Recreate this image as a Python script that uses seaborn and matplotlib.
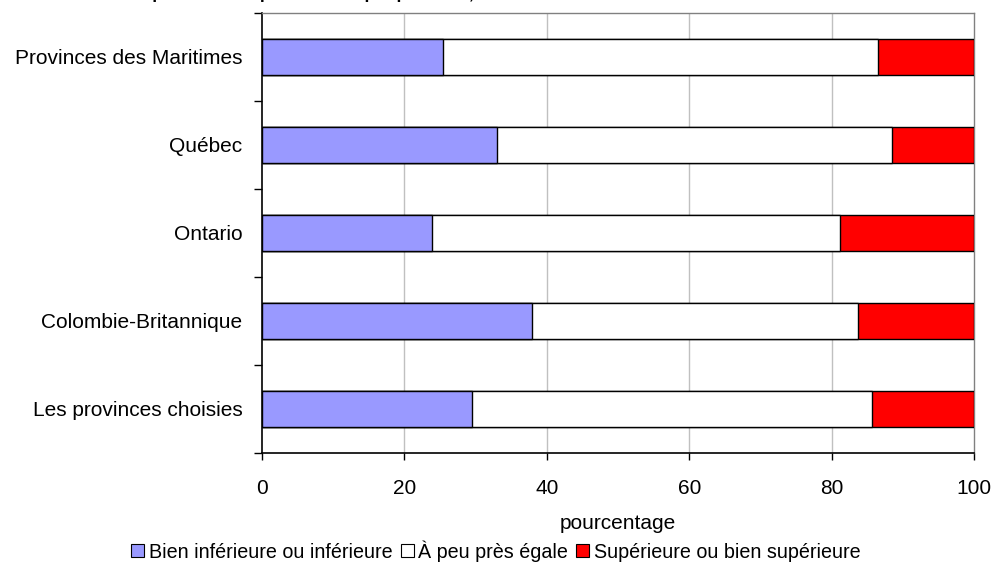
import matplotlib
matplotlib.use("Agg")
import matplotlib.pyplot as plt
from matplotlib.patches import Patch
from matplotlib.ticker import FixedLocator
import pandas as pd
import seaborn as sns

# Productivity compared with competitors, by province (percentages)
provinces = [
    "Provinces des Maritimes",
    "Québec",
    "Ontario",
    "Colombie-Britannique",
    "Les provinces choisies",
]
inferieure = [25.4, 33.0, 23.9, 37.9, 29.5]
egale = [61.1, 55.5, 57.3, 45.8, 56.2]
superieure = [13.5, 11.5, 18.8, 16.3, 14.3]

series_labels = [
    "Bien inférieure ou inférieure",
    "À peu près égale",
    "Supérieure ou bien supérieure",
]
series_colors = ["#9999ff", "#ffffff", "#ff0000"]

x_ticks = [0, 20, 40, 60, 80, 100]
x_label = "pourcentage"
title = "Supérieure à la productivité par province, 1999"

df = pd.DataFrame({
    "province": provinces,
    "inf": inferieure,
    "eq": egale,
    "sup": superieure,
})
# cumulative ends of each stacked segment
df["c1"] = df["inf"]
df["c2"] = df["inf"] + df["eq"]
df["c3"] = df["inf"] + df["eq"] + df["sup"]

sns.set_theme(style="white")
plt.rcParams["font.family"] = ["Liberation Sans", "DejaVu Sans"]
plt.rcParams["text.color"] = "black"
plt.rcParams["axes.labelcolor"] = "black"
plt.rcParams["xtick.color"] = "black"
plt.rcParams["ytick.color"] = "black"

fig = plt.figure(figsize=(9.92, 5.65), dpi=100)
ax = fig.add_axes([262 / 992, 1 - 453 / 565, 712 / 992, 440 / 565])

for col, color in zip(["c3", "c2", "c1"], series_colors[::-1]):
    sns.barplot(data=df, x=col, y="province", order=provinces, orient="h",
                color=color, width=0.41, edgecolor="black", linewidth=1.0,
                saturation=1, ax=ax, zorder=3)
ax.set_ylim(4.5, -0.5)
ax.set_xlim(0, 100)

# vertical gridlines
for xv in x_ticks[1:-1]:
    ax.axvline(xv, color="#c0c0c0", lw=1, zorder=1)

ax.set_xticks(x_ticks)
ax.set_xticklabels([str(v) for v in x_ticks], fontsize=15)
ax.tick_params(axis="x", direction="out", length=5, width=1,
               pad=14, bottom=True)

ax.yaxis.set_major_locator(FixedLocator(range(len(provinces))))
ax.set_yticklabels(provinces, fontsize=15)
ax.yaxis.set_minor_locator(FixedLocator([i - 0.5 for i in range(len(provinces) + 1)]))
ax.tick_params(axis="y", which="major", length=0, pad=14)
ax.tick_params(axis="y", which="minor", direction="out", length=6, width=1,
               left=True)

ax.set_xlabel(x_label, fontsize=15, labelpad=11)
ax.set_ylabel("")

for side in ["left", "bottom"]:
    ax.spines[side].set_color("black")
    ax.spines[side].set_linewidth(1.2)
for side in ["top", "right"]:
    ax.spines[side].set_color("#808080")
    ax.spines[side].set_linewidth(1.0)
    ax.spines[side].set_visible(True)

handles = [Patch(facecolor=c, edgecolor="black", linewidth=0.8) for c in series_colors]
fig.legend(handles, series_labels, loc="center", bbox_to_anchor=(0.5, 1 - 551 / 565),
           ncol=3, frameon=False, fontsize=14.2, handlelength=0.65, handleheight=0.65,
           handletextpad=0.25, columnspacing=0.4, borderpad=0)

fig.text(130 / 992, 1 + 1.5 / 565, title, fontsize=12.5, fontweight="bold",
         ha="left", va="baseline")

fig.savefig("out.png", dpi=100)
